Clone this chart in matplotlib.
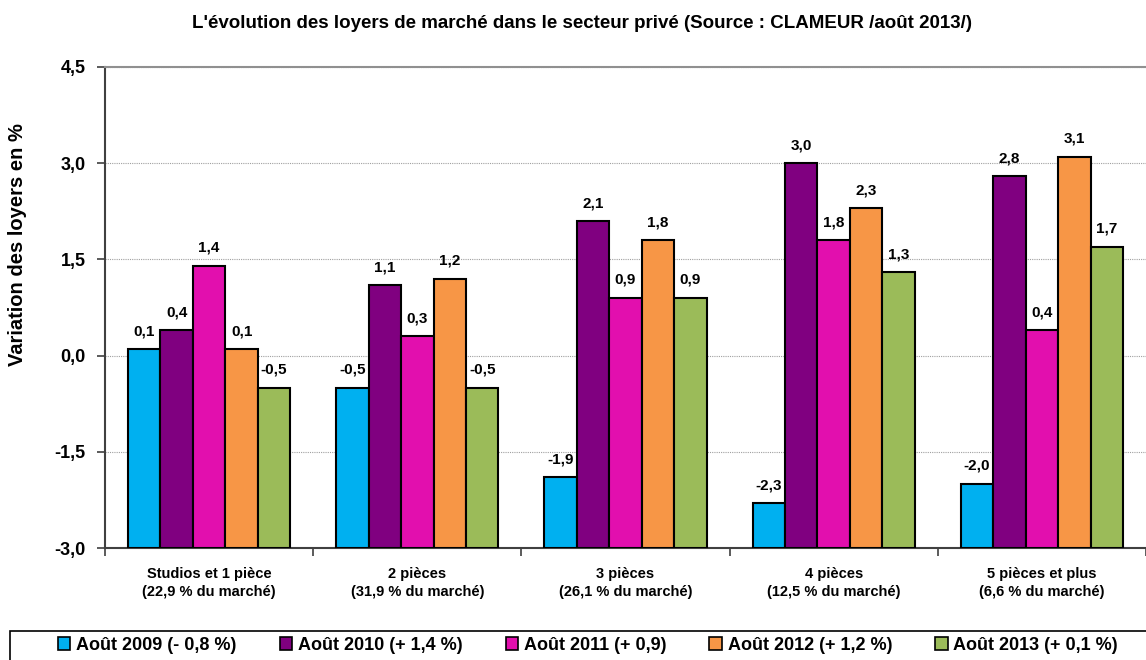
import numpy as np
import matplotlib
matplotlib.use("Agg")
from matplotlib import pyplot as plt
from matplotlib.ticker import FixedLocator
from matplotlib.patches import Rectangle

plt.rcParams['font.family'] = ['Liberation Sans', 'DejaVu Sans']
plt.rcParams['font.weight'] = 'bold'

categories = ["Studios et 1 pièce\n(22,9 % du marché)", "2 pièces\n(31,9 % du marché)",
              "3 pièces\n(26,1 % du marché)", "4 pièces\n(12,5 % du marché)",
              "5 pièces et plus\n(6,6 % du marché)"]
series = ["Août 2009 (- 0,8 %)", "Août 2010 (+ 1,4 %)", "Août 2011 (+ 0,9)",
          "Août 2012 (+ 1,2 %)", "Août 2013 (+ 0,1 %)"]
v2009 = [0.1, -0.5, -1.9, -2.3, -2.0]
v2010 = [0.4, 1.1, 2.1, 3.0, 2.8]
v2011 = [1.4, 0.3, 0.9, 1.8, 0.4]
v2012 = [0.1, 1.2, 1.8, 2.3, 3.1]
v2013 = [-0.5, -0.5, 0.9, 1.3, 1.7]
values = [v2009, v2010, v2011, v2012, v2013]
colors = ["#00B0F0", "#800080", "#E20FAE", "#F79646", "#9BBB59"]
yticks = [-3.0, -1.5, 0.0, 1.5, 3.0, 4.5]

fig = plt.figure(figsize=(11.46, 6.6), dpi=100)
ax = fig.add_axes([105/1146, 1 - 548/660, 1 - 105/1146, 481/660])

base = -3.0
x = np.arange(len(categories))
w = 0.156
for i, (vals, c) in enumerate(zip(values, colors)):
    pos = x + (i - 2) * w
    h = np.array(vals) - base
    ax.bar(pos, h, w, bottom=base, color=c, edgecolor="black", linewidth=1.5,
           label=series[i], zorder=3)
    for p, v in zip(pos, vals):
        ax.text(p, v + 0.17, ("%.1f" % v).replace(".", ","), ha="center", va="bottom",
                fontsize=11, fontweight="bold")

ax.set_xlim(-0.5, len(categories) - 0.5)
ax.set_ylim(-3.0, 4.5)
ax.set_yticks(yticks)
ax.set_yticklabels([("%.1f" % t).replace(".", ",") for t in yticks], fontsize=13, fontweight="bold")
ax.yaxis.grid(True, linestyle=(0, (1, 1)), color="#A0A0A0", linewidth=0.8, zorder=0)
ax.set_xticks(x)
ax.set_xticklabels(categories, fontsize=10.5, fontweight="bold", linespacing=1.3)
ax.xaxis.set_minor_locator(FixedLocator(np.arange(-0.5, len(categories), 1.0)))
ax.tick_params(axis="x", which="major", length=0, pad=14)
ax.tick_params(axis="x", which="minor", length=6, width=1.2, color="#404040")
ax.tick_params(axis="y", length=6, width=1.2, color="#404040", pad=8)
ax.spines["top"].set_color("#909090")
ax.spines["top"].set_linewidth(1.5)
ax.spines["right"].set_visible(False)
ax.spines["left"].set_color("#404040")
ax.spines["left"].set_linewidth(1.5)
ax.spines["bottom"].set_color("#404040")
ax.spines["bottom"].set_linewidth(1.5)

ax.set_ylabel("Variation des loyers en %", fontsize=14.5, fontweight="bold")
ax.yaxis.set_label_coords(-(105 - 27) / 1041, (548 - 245) / 481)
fig.text(0.508, 1 - 24/660, "L'évolution des loyers de marché dans le secteur privé (Source : CLAMEUR /août 2013/)",
         ha="center", va="center", fontsize=13.5, fontweight="bold")

# legend frame running off the right/bottom edge as in the original
fig.patches.append(Rectangle((10/1146, -0.05), 1.2, 0.05 + 1 - 631/660, transform=fig.transFigure,
                             fill=False, edgecolor="black", linewidth=1.2))
leg = fig.legend(loc="center", bbox_to_anchor=(0.513, 1 - 645/660), ncol=5, fontsize=13,
                 frameon=False, handlelength=0.7, handleheight=0.7, handletextpad=0.3,
                 columnspacing=2.4)
for t in leg.get_texts():
    t.set_fontweight("bold")
for hnd in leg.legend_handles:
    hnd.set_linewidth(1.2)

fig.savefig("out.png", dpi=100)
